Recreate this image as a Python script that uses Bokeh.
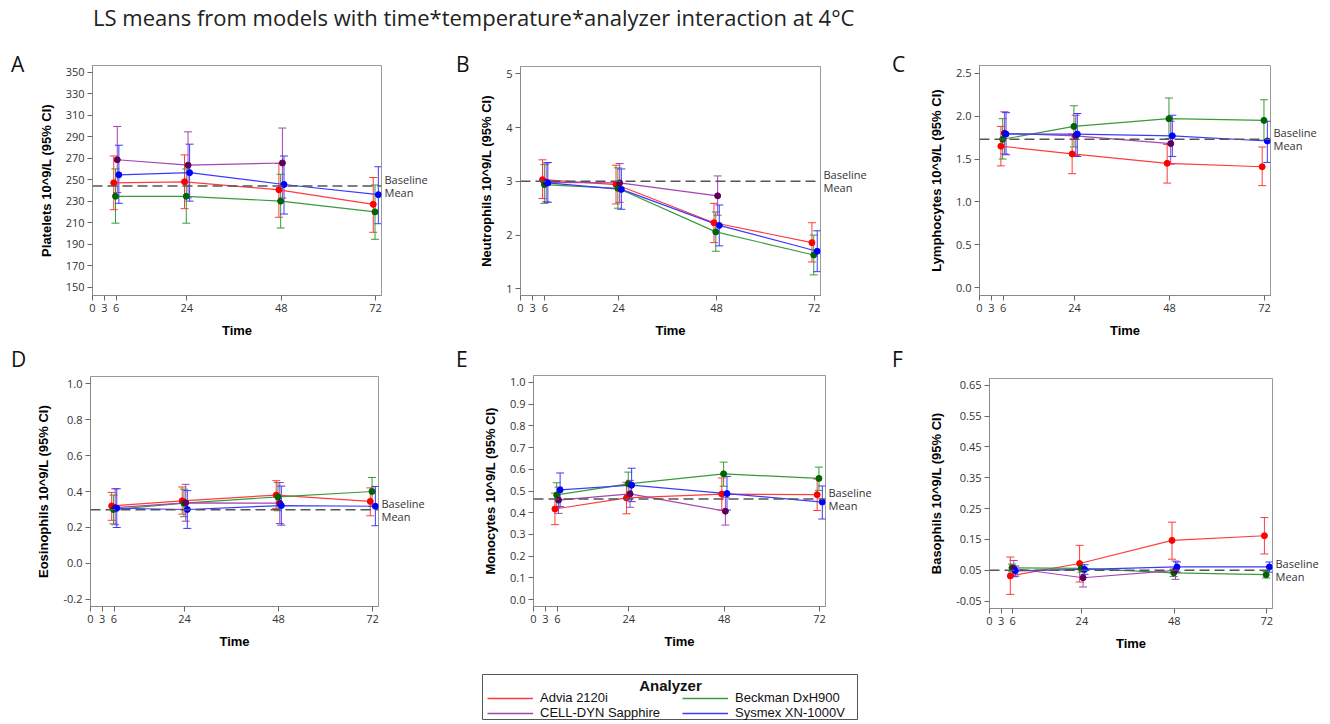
from bokeh.plotting import figure
from bokeh.models import (Range1d, FixedTicker, NumeralTickFormatter, Span, Label, LinearAxis,
                          Legend, LegendItem, Div, Spacer)
from bokeh.layouts import column, row
from bokeh.embed import file_html
from bokeh.resources import INLINE

TITLE = "LS means from models with time*temperature*analyzer interaction at 4°C"
ANALYZERS = ["Advia 2120i", "Beckman DxH900", "CELL-DYN Sapphire", "Sysmex XN-1000V"]
TIMES = [6, 24, 48, 72]
TIME_TICKS = [0, 3, 6, 24, 48, 72]

# ---- A: Platelets ----
PLT_MEAN = {"Advia 2120i": [247, 248, 240.5, 227], "Beckman DxH900": [234.5, 234.5, 230, 220],
            "CELL-DYN Sapphire": [268.5, 263.5, 265.5, None], "Sysmex XN-1000V": [254.5, 256.5, 245.5, 236]}
PLT_LO = {"Advia 2120i": [222, 223, 215, 201], "Beckman DxH900": [209.5, 209.5, 205, 194.5],
          "CELL-DYN Sapphire": [238, 233, 233, None], "Sysmex XN-1000V": [228, 230, 218, 209]}
PLT_HI = {"Advia 2120i": [272, 273, 265, 252], "Beckman DxH900": [260, 260, 255, 245],
          "CELL-DYN Sapphire": [299.5, 294.5, 298, None], "Sysmex XN-1000V": [282, 283, 272, 262]}
PLT_BASE = 244
PLT_TICKS = [150, 170, 190, 210, 230, 250, 270, 290, 310, 330, 350]

# ---- B: Neutrophils ----
NEU_MEAN = {"Advia 2120i": [3.03, 2.94, 2.23, 1.86], "Beckman DxH900": [2.94, 2.87, 2.06, 1.63],
            "CELL-DYN Sapphire": [2.98, 2.97, 2.73, None], "Sysmex XN-1000V": [2.97, 2.85, 2.18, 1.70]}
NEU_LO = {"Advia 2120i": [2.68, 2.58, 1.86, 1.50], "Beckman DxH900": [2.59, 2.50, 1.70, 1.26],
          "CELL-DYN Sapphire": [2.62, 2.61, 2.37, None], "Sysmex XN-1000V": [2.61, 2.48, 1.80, 1.32]}
NEU_HI = {"Advia 2120i": [3.40, 3.30, 2.59, 2.23], "Beckman DxH900": [3.31, 3.25, 2.43, 2.00],
          "CELL-DYN Sapphire": [3.34, 3.33, 3.10, None], "Sysmex XN-1000V": [3.35, 3.23, 2.56, 2.08]}
NEU_BASE = 3.0
NEU_TICKS = [1, 2, 3, 4, 5]

# ---- C: Lymphocytes ----
LYM_MEAN = {"Advia 2120i": [1.65, 1.56, 1.45, 1.41], "Beckman DxH900": [1.73, 1.88, 1.97, 1.95],
            "CELL-DYN Sapphire": [1.80, 1.77, 1.68, None], "Sysmex XN-1000V": [1.79, 1.79, 1.77, 1.71]}
LYM_LO = {"Advia 2120i": [1.42, 1.33, 1.22, 1.19], "Beckman DxH900": [1.50, 1.64, 1.74, 1.72],
          "CELL-DYN Sapphire": [1.56, 1.54, 1.44, None], "Sysmex XN-1000V": [1.55, 1.53, 1.53, 1.46]}
LYM_HI = {"Advia 2120i": [1.88, 1.79, 1.67, 1.64], "Beckman DxH900": [1.97, 2.12, 2.21, 2.19],
          "CELL-DYN Sapphire": [2.05, 2.01, 1.94, None], "Sysmex XN-1000V": [2.04, 2.03, 2.01, 1.94]}
LYM_BASE = 1.73
LYM_TICKS = [0.0, 0.5, 1.0, 1.5, 2.0, 2.5]

# ---- D: Eosinophils ----
EOS_MEAN = {"Advia 2120i": [0.32, 0.348, 0.38, 0.345], "Beckman DxH900": [0.30, 0.335, 0.37, 0.40],
            "CELL-DYN Sapphire": [0.31, 0.337, 0.335, None], "Sysmex XN-1000V": [0.307, 0.30, 0.322, 0.318]}
EOS_LO = {"Advia 2120i": [0.24, 0.274, 0.306, 0.265], "Beckman DxH900": [0.22, 0.26, 0.293, 0.317],
          "CELL-DYN Sapphire": [0.215, 0.235, 0.222, None], "Sysmex XN-1000V": [0.20, 0.195, 0.213, 0.21]}
EOS_HI = {"Advia 2120i": [0.395, 0.425, 0.46, 0.42], "Beckman DxH900": [0.38, 0.413, 0.45, 0.478],
          "CELL-DYN Sapphire": [0.415, 0.44, 0.45, None], "Sysmex XN-1000V": [0.415, 0.405, 0.43, 0.428]}
EOS_BASE = 0.298
EOS_TICKS = [-0.2, 0.0, 0.2, 0.4, 0.6, 0.8, 1.0]

# ---- E: Monocytes ----
MON_MEAN = {"Advia 2120i": [0.417, 0.468, 0.486, 0.483], "Beckman DxH900": [0.482, 0.533, 0.579, 0.558],
            "CELL-DYN Sapphire": [0.458, 0.487, 0.407, None], "Sysmex XN-1000V": [0.505, 0.527, 0.488, 0.449]}
MON_LO = {"Advia 2120i": [0.345, 0.395, 0.412, 0.41], "Beckman DxH900": [0.425, 0.478, 0.522, 0.503],
          "CELL-DYN Sapphire": [0.397, 0.425, 0.343, None], "Sysmex XN-1000V": [0.428, 0.451, 0.412, 0.371]}
MON_HI = {"Advia 2120i": [0.49, 0.54, 0.56, 0.555], "Beckman DxH900": [0.538, 0.587, 0.633, 0.61],
          "CELL-DYN Sapphire": [0.518, 0.549, 0.471, None], "Sysmex XN-1000V": [0.583, 0.605, 0.567, 0.523]}
MON_BASE = 0.463
MON_TICKS = [0.0, 0.1, 0.2, 0.3, 0.4, 0.5, 0.6, 0.7, 0.8, 0.9, 1.0]

# ---- F: Basophils ----
BAS_MEAN = {"Advia 2120i": [0.032, 0.072, 0.147, 0.162], "Beckman DxH900": [0.058, 0.056, 0.042, 0.036],
            "CELL-DYN Sapphire": [0.056, 0.026, 0.05, None], "Sysmex XN-1000V": [0.048, 0.053, 0.061, 0.061]}
BAS_LO = {"Advia 2120i": [-0.028, 0.012, 0.086, 0.103], "Beckman DxH900": [0.045, 0.044, 0.030, 0.025],
          "CELL-DYN Sapphire": [0.029, -0.004, 0.021, None], "Sysmex XN-1000V": [0.031, 0.037, 0.044, 0.044]}
BAS_HI = {"Advia 2120i": [0.093, 0.131, 0.206, 0.221], "Beckman DxH900": [0.070, 0.068, 0.054, 0.047],
          "CELL-DYN Sapphire": [0.082, 0.052, 0.080, None], "Sysmex XN-1000V": [0.064, 0.068, 0.077, 0.077]}
BAS_BASE = 0.05
BAS_TICKS = [-0.05, 0.05, 0.15, 0.25, 0.35, 0.45, 0.55, 0.65]

# ---- styles ----
LINE_COLORS = {"Advia 2120i": "#ff3b3b", "Beckman DxH900": "#3a9a3a",
               "CELL-DYN Sapphire": "#a445b0", "Sysmex XN-1000V": "#3b3bff"}
MARKER_COLORS = {"Advia 2120i": "#ff0000", "Beckman DxH900": "#006400",
                 "CELL-DYN Sapphire": "#5c005c", "Sysmex XN-1000V": "#0000ff"}
DODGE = {"Advia 2120i": -0.6, "Beckman DxH900": -0.15, "CELL-DYN Sapphire": 0.3, "Sysmex XN-1000V": 0.7}
X_MAX = 73.5
TICK_FONT = "Open Sans"
LABEL_FONT = "Liberation Sans"

PANELS = [
    dict(letter="A", ylabel="Platelets 10^9/L (95% CI)", mean=PLT_MEAN, lo=PLT_LO, hi=PLT_HI,
         base=PLT_BASE, ticks=PLT_TICKS, fmt="0", yr=(142.2, 356.2),
         strip=25, w=415, h=292, bl=67, br=59, bt=17, bb=45, lpad=11, ltop=2),
    dict(letter="B", ylabel="Neutrophils 10^9/L (95% CI)", mean=NEU_MEAN, lo=NEU_LO, hi=NEU_HI,
         base=NEU_BASE, ticks=NEU_TICKS, fmt="0", yr=(0.877, 5.135),
         strip=36, w=404, h=292, bl=43, br=60, bt=18, bb=43, lpad=16, ltop=2),
    dict(letter="C", ylabel="Lymphocytes 10^9/L (95% CI)", mean=LYM_MEAN, lo=LYM_LO, hi=LYM_HI,
         base=LYM_BASE, ticks=LYM_TICKS, fmt="0.0", yr=(-0.089, 2.589),
         strip=32, w=410, h=292, bl=67, br=52, bt=17, bb=44, lpad=12, ltop=2),
    dict(letter="D", ylabel="Eosinophils 10^9/L (95% CI)", mean=EOS_MEAN, lo=EOS_LO, hi=EOS_HI,
         base=EOS_BASE, ticks=EOS_TICKS, fmt="0.0", yr=(-0.239, 1.039),
         strip=25, w=415, h=320, bl=65, br=62, bt=36, bb=54, lpad=11, ltop=5),
    dict(letter="E", ylabel="Monocytes 10^9/L (95% CI)", mean=MON_MEAN, lo=MON_LO, hi=MON_HI,
         base=MON_BASE, ticks=MON_TICKS, fmt="0.0", yr=(-0.032, 1.032),
         strip=36, w=404, h=320, bl=57, br=55, bt=35, bb=54, lpad=16, ltop=5),
    dict(letter="F", ylabel="Basophils 10^9/L (95% CI)", mean=BAS_MEAN, lo=BAS_LO, hi=BAS_HI,
         base=BAS_BASE, ticks=BAS_TICKS, fmt="0.00", yr=(-0.0737, 0.6715),
         strip=32, w=410, h=320, bl=77, br=50, bt=38, bb=52, lpad=12, ltop=5),
]


def style_axis(ax):
    ax.axis_line_color = "#8a8a8a"
    ax.major_tick_line_color = "#666666"
    ax.minor_tick_line_color = None
    ax.major_tick_in = 0
    ax.major_tick_out = 5
    ax.major_label_text_font = TICK_FONT
    ax.major_label_text_font_size = "11px"
    ax.major_label_text_color = "#333333"
    ax.major_label_standoff = 3
    ax.axis_label_text_font = LABEL_FONT
    ax.axis_label_text_font_style = "bold"
    ax.axis_label_text_font_size = "13px"
    ax.axis_label_text_color = "#000000"


def make_panel(s):
    p = figure(width=s["w"], height=s["h"], x_range=Range1d(0, X_MAX), y_range=Range1d(*s["yr"]),
               output_backend="svg", toolbar_location=None,
               min_border_left=s["bl"], min_border_right=s["br"],
               min_border_top=s["bt"], min_border_bottom=s["bb"])
    p.grid.visible = False
    p.outline_line_color = "#9a9a9a"
    p.outline_line_width = 1
    p.background_fill_color = "white"

    p.xaxis.ticker = FixedTicker(ticks=TIME_TICKS)
    p.yaxis.ticker = FixedTicker(ticks=s["ticks"])
    p.yaxis.formatter = NumeralTickFormatter(format=s["fmt"])
    p.xaxis.axis_label = "Time"
    p.yaxis.axis_label = s["ylabel"]
    style_axis(p.xaxis[0])
    style_axis(p.yaxis[0])
    p.xaxis.axis_label_standoff = 8
    p.yaxis.axis_label_standoff = 9

    # baseline mean line and its label (as a right-hand axis tick label)
    p.add_layout(Span(location=s["base"], dimension="width", line_color="#555555",
                      line_dash="10 5", line_width=1.5))
    rax = LinearAxis(ticker=FixedTicker(ticks=[s["base"]]),
                     major_label_overrides={s["base"]: "Baseline\nMean"},
                     axis_line_color=None, major_tick_line_color=None,
                     minor_tick_line_color=None, major_tick_out=0, major_tick_in=0,
                     major_label_standoff=3, major_label_text_font=TICK_FONT,
                     major_label_text_font_size="11px", major_label_text_color="#333333",
                     major_label_text_line_height=0.85)
    p.add_layout(rax, "right")

    series = {}
    for a in ANALYZERS:
        rows = [(t + DODGE[a], m, lo, hi) for t, m, lo, hi in
                zip(TIMES, s["mean"][a], s["lo"][a], s["hi"][a]) if m is not None]
        series[a] = [list(v) for v in zip(*rows)]
    for a in ANALYZERS:
        xs, ms, los, his = series[a]
        c = LINE_COLORS[a]
        p.segment(x0=xs, y0=los, x1=xs, y1=his, line_color=c, line_width=1)
        p.scatter(xs, los, marker="dash", size=8, line_color=c, line_width=1)
        p.scatter(xs, his, marker="dash", size=8, line_color=c, line_width=1)
    for a in ANALYZERS:
        xs, ms, los, his = series[a]
        p.line(xs, ms, line_color=LINE_COLORS[a], line_width=1.2)
    for a in ANALYZERS:
        xs, ms, los, his = series[a]
        p.scatter(xs, ms, marker="circle", size=6,
                  fill_color=MARKER_COLORS[a], line_color=MARKER_COLORS[a])
    return p


def make_cell(s):
    letter = Div(text=('<div style="font-family:\'Open Sans\';font-size:21px;line-height:28px;'
                       'color:#111;padding-left:%dpx;padding-top:%dpx">%s</div>'
                       % (s["lpad"], s["ltop"], s["letter"])),
                 width=s["strip"], height=s["h"], margin=0)
    return row(letter, make_panel(s))


cells = [make_cell(s) for s in PANELS]

title = Div(text=('<div style="font-family:\'Open Sans\';font-size:22px;color:#222;'
                  'padding-left:93px;line-height:30px;margin-top:2px;white-space:nowrap">'
                  + TITLE + '</div>'), width=1322, height=48, margin=0)

# legend
LW, LH = 376, 46
lg = figure(width=LW, height=LH, x_range=Range1d(0, 1), y_range=Range1d(0, 1),
            output_backend="svg", toolbar_location=None,
            x_axis_location=None, y_axis_location=None,
            min_border_left=0, min_border_right=0, min_border_top=0, min_border_bottom=0)
lg.grid.visible = False
lg.outline_line_color = "#555555"
nan = float("nan")
dummies = {a: lg.line([nan], [nan], line_color=LINE_COLORS[a], line_width=1.5) for a in ANALYZERS}
for col_items, xloc in (((ANALYZERS[0], ANALYZERS[2]), 5), ((ANALYZERS[1], ANALYZERS[3]), 200)):
    leg = Legend(items=[LegendItem(label=a, renderers=[dummies[a]]) for a in col_items],
                 location=(xloc, 0), orientation="vertical",
                 glyph_width=46, glyph_height=12, label_height=12, spacing=0,
                 padding=0, margin=0, label_standoff=7,
                 label_text_font=LABEL_FONT, label_text_font_size="13px",
                 label_text_color="#111111", border_line_color=None,
                 background_fill_alpha=0)
    lg.add_layout(leg)
lg.add_layout(Label(x=LW / 2, y=LH - 11, x_units="screen", y_units="screen", text="Analyzer",
                    text_align="center", text_baseline="middle", text_font=LABEL_FONT,
                    text_font_style="bold", text_font_size="15px", text_color="#111111"))

layout = column(
    title,
    row(cells[0], cells[1], cells[2]),
    row(cells[3], cells[4], cells[5]),
    column(Spacer(width=10, height=14), row(Spacer(width=482, height=LH), lg)),
)

open("out.html", "w").write(file_html(layout, INLINE))
